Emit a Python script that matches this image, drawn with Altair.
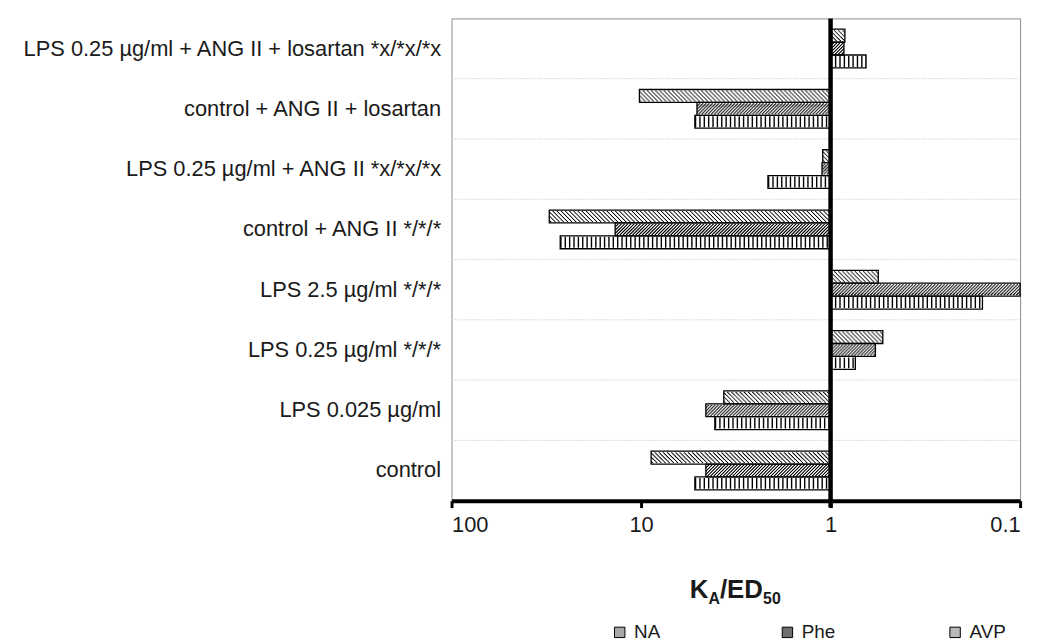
import altair as alt
import pandas as pd

# ---- data ----
categories = [
    "LPS 0.25 µg/ml + ANG II + losartan *x/*x/*x",
    "control + ANG II + losartan",
    "LPS 0.25 µg/ml + ANG II *x/*x/*x",
    "control + ANG II */*/*",
    "LPS 2.5 µg/ml */*/*",
    "LPS 0.25 µg/ml */*/*",
    "LPS 0.025 µg/ml",
    "control",
]
na_vals = [0.65, 5.2, 2.14, 26.7, 0.158, 0.74, 4.08, 5.2]
phe_vals = [0.85, 5.07, 1.11, 13.7, 0.1, 0.58, 4.55, 4.55]
avp_vals = [0.84, 10.2, 1.10, 30.5, 0.56, 0.53, 3.66, 8.85]
series_names = ["NA", "Phe", "AVP"]
x_ticks = [100, 10, 1, 0.1]

# ---- styling ----
W, H = 573, 486
BAND = H / len(categories)
BAR_H = 13
FONT = "Liberation Sans, Arial, Helvetica, sans-serif"
TXT = "#1a1a1a"
offsets = {"AVP": -BAR_H, "Phe": 0, "NA": BAR_H}
legend_fill = ["#a8a8a8", "#6e6e6e", "#b9b9b9"]

rows = []
for s, vals in zip(series_names, [na_vals, phe_vals, avp_vals]):
    for c, v in zip(categories, vals):
        rows.append({"category": c, "series": s, "value": v})
df = pd.DataFrame(rows)

x_scale = alt.Scale(type="log", domain=[0.1, 100], reverse=True, nice=False)
x_axis = alt.Axis(values=x_ticks, format="~g", domainColor="black", domainWidth=4,
                  tickColor="black", tickWidth=3, tickSize=7, labelFontSize=22,
                  labelFont=FONT, labelColor=TXT, labelPadding=7, grid=False, title=None)
y_axis = alt.Axis(domain=False, ticks=False, labelFontSize=22, labelFont=FONT,
                  labelColor=TXT, labelPadding=11, labelLimit=1000, title=None, grid=False)
y_scale = alt.Scale(domain=categories, paddingInner=0, paddingOuter=0)

X = alt.X("value:Q", scale=x_scale, axis=x_axis)
Y = alt.Y("category:N", sort=categories, scale=y_scale, axis=y_axis)
XLO = alt.X("lo:Q", scale=x_scale, axis=x_axis)

layers = []

# dotted horizontal gridlines between category bands
grid_df = pd.DataFrame({"category": categories[1:]})
layers.append(
    alt.Chart(grid_df).mark_rule(color="#cfcfcf", strokeDash=[1.5, 1.5], strokeWidth=1,
                                 yOffset=-BAND / 2)
    .encode(y=Y, x=alt.value(0), x2=alt.value(W))
)

# legend-carrying bars (hidden under the hatched bars)
for s in series_names:
    layers.append(
        alt.Chart(df).transform_filter(alt.datum.series == s)
        .mark_bar(height=BAR_H, yOffset=offsets[s])
        .encode(
            x=X, x2=alt.datum(1), y=Y,
            fill=alt.Fill("series:N",
                          scale=alt.Scale(domain=series_names, range=legend_fill),
                          legend=alt.Legend(orient="none", legendX=160, legendY=609,
                                            direction="horizontal", title=None,
                                            symbolType="square", symbolSize=110,
                                            symbolStrokeColor="black", symbolStrokeWidth=1,
                                            labelFontSize=19, labelFont=FONT,
                                            labelColor=TXT, columnPadding=108,
                                            gridAlign="all", padding=0, labelOffset=5)),
        )
    )

# white bar bodies
for s in series_names:
    layers.append(
        alt.Chart(df).transform_filter(alt.datum.series == s)
        .mark_bar(height=BAR_H, yOffset=offsets[s], color="white")
        .encode(x=X, x2=alt.datum(1), y=Y)
    )


def stripe_base(s):
    return (alt.Chart(df).transform_filter(alt.datum.series == s)
            .transform_calculate(lo="max(datum.value, 1)", hi="min(datum.value, 1)"))


# NA: vertical stripes
layers.append(
    stripe_base("NA").mark_rule(color="black", strokeWidth=BAR_H - 2, strokeDash=[1.4, 3.0],
                                strokeCap="butt", yOffset=offsets["NA"])
    .encode(x=XLO, x2="hi:Q", y=Y)
)

# Phe: dense "////" hatch, AVP: lighter "\\\\" hatch
for s, dash, sign in [("Phe", [1.5, 1.7], 1), ("AVP", [1.2, 3.0], -1)]:
    period = sum(dash)
    for i in range(-5, 6):
        layers.append(
            stripe_base(s).mark_rule(color="black", strokeWidth=1.05, strokeDash=dash,
                                     strokeDashOffset=(sign * i) % period, strokeCap="butt",
                                     yOffset=offsets[s] + i)
            .encode(x=XLO, x2="hi:Q", y=Y)
        )

# bar outlines
for s in series_names:
    layers.append(
        alt.Chart(df).transform_filter(alt.datum.series == s)
        .mark_bar(height=BAR_H, yOffset=offsets[s], fillOpacity=0, stroke="black",
                  strokeWidth=1.3)
        .encode(x=X, x2=alt.datum(1), y=Y)
    )

# thick vertical category axis at x = 1
one_df = pd.DataFrame({"v": [1]})
layers.append(
    alt.Chart(one_df).mark_rule(color="black", strokeWidth=4.5)
    .encode(x=alt.X("v:Q", scale=x_scale, axis=x_axis), y=alt.value(0), y2=alt.value(H + 7))
)

# axis title K_A/ED_50 with subscripts
title_df = pd.DataFrame({"t": [0]})
for text, size, px, py in [("K", 26, 240, 584), ("A", 16, 259, 590),
                           ("/ED", 26, 270.5, 584), ("50", 16, 314, 590)]:
    layers.append(
        alt.Chart(title_df).mark_text(align="left", baseline="alphabetic", fontWeight="bold",
                                      fontSize=size, font=FONT, color=TXT)
        .encode(x=alt.value(px), y=alt.value(py), text=alt.value(text))
    )

chart = (
    alt.layer(*layers)
    .properties(width=W, height=H, background="white",
                padding={"left": 447, "top": 8, "right": 12, "bottom": 146},
                autosize=alt.AutoSizeParams(type="none"))
    .configure_view(stroke="#8c8c8c", strokeWidth=1)
)

chart.save("out.html", embed_options={"renderer": "svg", "actions": False})
